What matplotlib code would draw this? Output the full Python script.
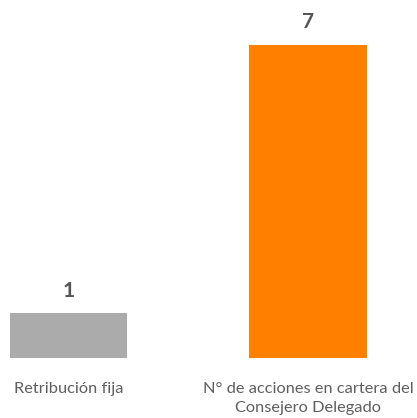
import matplotlib.pyplot as plt

# data
categories = ["Retribución fija", "N° de acciones en cartera del\nConsejero Delegado"]
values = [1, 7]
colors = ["#ababab", "#ff8000"]

fig = plt.figure(figsize=(4.17, 4.18), dpi=100)
ax = fig.add_axes([0, 60 / 418, 1, 358 / 418])

x = range(len(values))
bars = ax.bar(x, values, width=0.49, color=colors)

for b, v in zip(bars, values):
    ax.annotate(str(v), (b.get_x() + b.get_width() / 2, v),
                xytext=(0, 9), textcoords="offset points",
                ha="center", va="bottom", fontsize=15, fontweight="bold",
                color="#555555", family="Lato")

ax.set_xlim(-0.286, 1.455)
ax.set_ylim(0, 8.0)
ax.set_xticks(list(x))
ax.set_xticklabels(categories, fontsize=11.8, color="#5f5f5f",
                   family="Lato", linespacing=1.5)
ax.tick_params(axis="x", length=0, pad=17)
ax.set_yticks([])
for s in ax.spines.values():
    s.set_visible(False)

fig.savefig("out.png", dpi=100)
